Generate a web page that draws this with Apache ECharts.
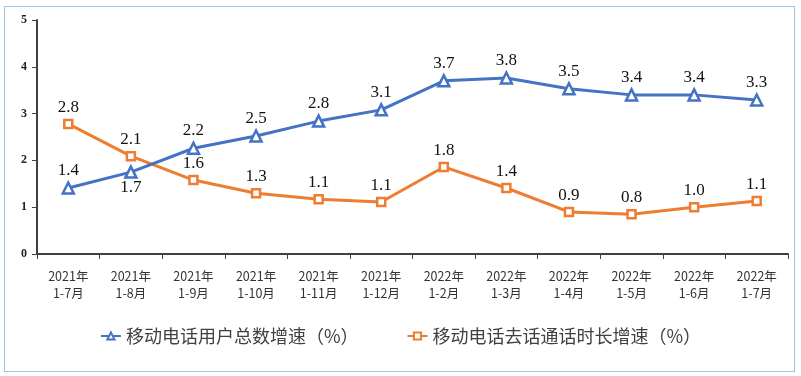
<!DOCTYPE html>
<html>
<head>
<meta charset="utf-8">
<script src="https://cdn.jsdelivr.net/npm/echarts@6/dist/echarts.min.js"></script>
<style>
  html, body { margin: 0; padding: 0; background: #fff; }
  #frame {
    position: absolute; left: 4px; top: 6px; width: 789px; height: 364px;
    border: 1px solid #9dc3e6;
  }
  #chart { position: absolute; left: 0; top: 0; width: 801px; height: 376px; }
</style>
</head>
<body>
<div id="frame"></div>
<div id="chart"></div>
<script>
// 移动电话用户总数增速 vs 移动电话去话通话时长增速

const categories = [
  '2021年\n1-7月', '2021年\n1-8月', '2021年\n1-9月', '2021年\n1-10月',
  '2021年\n1-11月', '2021年\n1-12月', '2022年\n1-2月', '2022年\n1-3月',
  '2022年\n1-4月', '2022年\n1-5月', '2022年\n1-6月', '2022年\n1-7月',
]
const userGrowth = [1.41, 1.75, 2.26, 2.52, 2.84, 3.08, 3.70, 3.76, 3.53, 3.40, 3.40, 3.29]
const userLabels = ['1.4', '1.7', '2.2', '2.5', '2.8', '3.1', '3.7', '3.8', '3.5', '3.4', '3.4', '3.3']
const callGrowth = [2.78, 2.09, 1.58, 1.30, 1.17, 1.11, 1.86, 1.41, 0.90, 0.85, 1.00, 1.13]
const callLabels = ['2.8', '2.1', '1.6', '1.3', '1.1', '1.1', '1.8', '1.4', '0.9', '0.8', '1.0', '1.1']
const yTicks = [0, 1, 2, 3, 4, 5]

const BLUE = '#4472c4'
const ORANGE = '#ed7d31'
const labelFont = { fontFamily: 'Liberation Serif', fontSize: 17, color: '#111' }

const chart = echarts.init(document.getElementById('chart'))
chart.setOption({
  backgroundColor: 'transparent',
  animation: false,
  grid: { left: 37, right: 13, top: 20, bottom: 122 },
  legend: {
    top: 322,
    left: 'center',
    itemGap: 48,
    itemWidth: 20,
    itemHeight: 9,
    textStyle: { fontFamily: 'Noto Sans CJK SC', fontSize: 18, color: '#404040' },
    data: ['移动电话用户总数增速（%）', '移动电话去话通话时长增速（%）'],
  },
  xAxis: {
    type: 'category',
    data: categories,
    boundaryGap: true,
    axisLine: { lineStyle: { color: '#404040', width: 2 } },
    axisTick: { show: true, length: 5, lineStyle: { color: '#404040' } },
    axisLabel: {
      interval: 0, margin: 14, lineHeight: 17,
      fontFamily: 'Noto Sans CJK SC', fontSize: 12.5, color: '#333',
    },
  },
  yAxis: {
    type: 'value',
    min: yTicks[0],
    max: yTicks[yTicks.length - 1],
    interval: 1,
    splitLine: { show: false },
    axisLine: { show: true, lineStyle: { color: '#404040', width: 2 } },
    axisTick: { show: true, length: 5, lineStyle: { color: '#404040' } },
    axisLabel: {
      margin: 10, fontFamily: 'Liberation Serif', fontWeight: 'bold', fontSize: 12, color: '#222',
    },
  },
  series: [
    {
      name: '移动电话用户总数增速（%）',
      type: 'line',
      data: userGrowth,
      symbol: 'triangle',
      symbolSize: 11,
      lineStyle: { color: BLUE, width: 3 },
      itemStyle: { color: '#fff', borderColor: BLUE, borderWidth: 2.5 },
      label: {
        show: true,
        ...labelFont,
        distance: 2,
        position: 'top',
        formatter: (p) => userLabels[p.dataIndex],
      },
      // 1-8月的标签放在点下方
      labelLayout: (p) => (p.dataIndex === 1 ? { dy: 33 } : {}),
      z: 3,
    },
    {
      name: '移动电话去话通话时长增速（%）',
      type: 'line',
      data: callGrowth,
      symbol: 'rect',
      symbolSize: 8,
      lineStyle: { color: ORANGE, width: 3 },
      itemStyle: { color: '#fff', borderColor: ORANGE, borderWidth: 2.5 },
      label: {
        show: true,
        ...labelFont,
        distance: 3,
        position: 'top',
        formatter: (p) => callLabels[p.dataIndex],
      },
      z: 2,
    },
  ],
})
</script>
</body>
</html>
